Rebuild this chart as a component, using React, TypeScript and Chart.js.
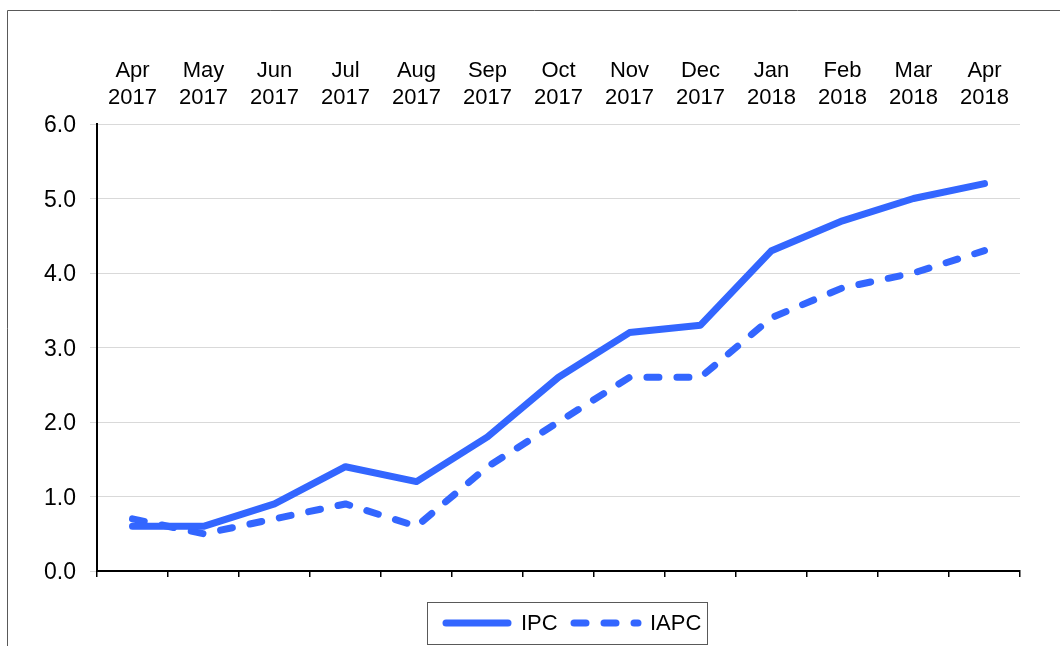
import React, { useEffect, useRef } from "react";
import { Chart, registerables } from "chart.js";

Chart.register(...registerables);

const monthLabels: string[][] = [
  ["Apr", "2017"], ["May", "2017"], ["Jun", "2017"], ["Jul", "2017"], ["Aug", "2017"],
  ["Sep", "2017"], ["Oct", "2017"], ["Nov", "2017"], ["Dec", "2017"], ["Jan", "2018"],
  ["Feb", "2018"], ["Mar", "2018"], ["Apr", "2018"],
];
const ipcValues: number[] = [0.6, 0.6, 0.9, 1.4, 1.2, 1.8, 2.6, 3.2, 3.3, 4.3, 4.7, 5.0, 5.2];
const iapcValues: number[] = [0.7, 0.5, 0.7, 0.9, 0.6, 1.4, 2.0, 2.6, 2.6, 3.4, 3.8, 4.0, 4.3];
const seriesNames: string[] = ["IPC", "IAPC"];

const BLUE = "#3366FF";
const FONT = "Liberation Sans, Arial, sans-serif";

const framePlugin = {
  id: "frameAndLegend",
  beforeDraw(chart: any) {
    const ctx = chart.ctx;
    ctx.save();
    ctx.strokeStyle = "#595959";
    ctx.lineWidth = 1;
    ctx.beginPath();
    ctx.moveTo(7.5, 660);
    ctx.lineTo(7.5, 10.5);
    ctx.lineTo(1070, 10.5);
    ctx.stroke();
    ctx.restore();
  },
  afterDraw(chart: any) {
    const ctx = chart.ctx;
    const ds = chart.data.datasets;
    ctx.save();
    ctx.strokeStyle = "#595959";
    ctx.lineWidth = 1;
    ctx.strokeRect(427.5, 602.5, 280, 42);
    const y = 623;
    const items = [
      { x0: 446, x1: 508, tx: 521 },
      { x0: 574, x1: 638, tx: 650 },
    ];
    items.forEach((it, i) => {
      const d = ds[i];
      ctx.strokeStyle = d.borderColor;
      ctx.lineWidth = d.borderWidth;
      ctx.lineCap = "round";
      ctx.setLineDash(d.borderDash || []);
      ctx.beginPath();
      ctx.moveTo(it.x0, y);
      ctx.lineTo(it.x1, y);
      ctx.stroke();
      ctx.setLineDash([]);
      ctx.fillStyle = "#000";
      ctx.font = `22px ${FONT}`;
      ctx.textBaseline = "middle";
      ctx.textAlign = "left";
      ctx.fillText(d.label, it.tx, y + 1);
    });
    ctx.restore();
  },
};

export default function App() {
  const ref = useRef<HTMLCanvasElement | null>(null);
  useEffect(() => {
    if (!ref.current) return;
    const chart = new Chart(ref.current, {
      type: "line",
      data: {
        labels: monthLabels,
        datasets: [
          {
            label: seriesNames[0],
            data: ipcValues,
            borderColor: BLUE,
            backgroundColor: BLUE,
            borderWidth: 7,
            pointRadius: 0,
            tension: 0,
            borderCapStyle: "round",
            borderJoinStyle: "round",
            xAxisID: "x",
          },
          {
            label: seriesNames[1],
            data: iapcValues,
            borderColor: BLUE,
            backgroundColor: BLUE,
            borderWidth: 7,
            borderDash: [12, 18],
            pointRadius: 0,
            tension: 0,
            borderCapStyle: "round",
            borderJoinStyle: "round",
            xAxisID: "x",
          },
        ],
      },
      options: {
        animation: false,
        responsive: false,
        layout: { padding: { left: 0, right: 40, top: 0, bottom: 0 } },
        plugins: { legend: { display: false }, tooltip: { enabled: false } },
        scales: {
          x: {
            type: "category",
            position: "top",
            offset: true,
            grid: { display: false, drawTicks: false },
            border: { display: false },
            ticks: {
              color: "#000",
              font: { family: FONT, size: 22, lineHeight: 1.2 },
              padding: 13,
              maxRotation: 0,
              autoSkip: false,
            },
            afterFit(scale: any) {
              scale.height = 124;
            },
          },
          x2: {
            type: "category",
            position: "bottom",
            offset: true,
            grid: {
              offset: true,
              drawOnChartArea: false,
              color: "#000",
              tickLength: 6,
              lineWidth: 1.5,
            },
            border: { display: true, color: "#000", width: 2 },
            ticks: { display: false },
            afterFit(scale: any) {
              scale.height = 75;
            },
          },
          y: {
            min: 0,
            max: 6,
            grid: { color: "#d9d9d9", tickLength: 7, lineWidth: 1 },
            border: { display: true, color: "#000", width: 2 },
            ticks: {
              stepSize: 1,
              color: "#000",
              padding: 14,
              labelOffset: 2,
              font: { family: FONT, size: 23 },
              callback: (v: any) => Number(v).toFixed(1),
            },
            afterFit(scale: any) {
              scale.width = 97;
            },
          },
        },
      } as any,
      plugins: [framePlugin],
    });
    return () => chart.destroy();
  }, []);
  return (
    <div style={{ position: "absolute", left: 0, top: 0, width: 1060, height: 646, background: "#fff" }}>
      <canvas ref={ref} width={1060} height={646} style={{ display: "block" }} />
    </div>
  );
}
